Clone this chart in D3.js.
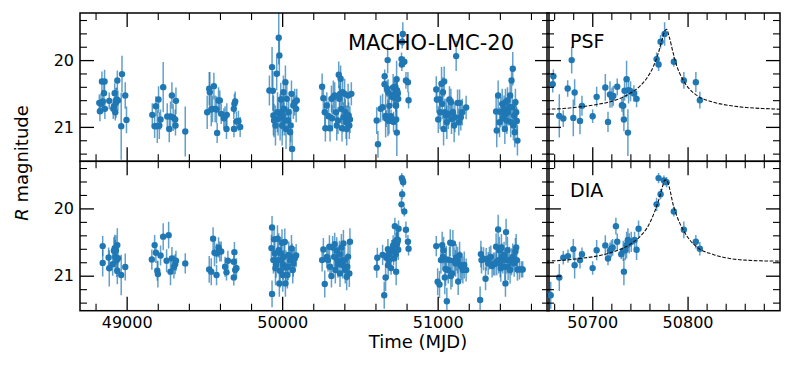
<!DOCTYPE html>
<html>
<head>
<meta charset="utf-8">
<script src="https://cdn.jsdelivr.net/npm/d3@7"></script>
<style>
  body { margin: 0; background: #fff; }
  svg { font-family: "DejaVu Sans", sans-serif; }
</style>
</head>
<body>
<div class="chart"></div>
<script>
const FRAME_WIDTH = 793;
const FRAME_HEIGHT = 366;

// PSF photometry: [MJD, R mag, error]
const psfData = [
  // 1992-93
  [48824,20.64,.125],[48828,20.765,.15],[48835,20.655,.15],[48841,20.32,.15],[48846,20.62,.175],
  [48854,20.495,.2],[48858,20.32,.175],[48860,20.73,.15],[48888,20.61,.125],[48914,20.73,.15],
  [48918,20.69,.125],[48923,20.495,.15],[48927,20.78,.125],[48931,20.64,.225],[48936,20.59,.175],
  [48940,20.305,.15],[48944,20.605,.15],[48965,20.99,.5],[48970,20.21,.275],[48991,20.53,.2],
  [48999,20.895,.2],
  [49165,20.82,.175],[49180,20.99,.175],[49188,20.69,.15],[49197,20.99,.25],[49205,20.59,.2],
  [49210,20.98,.2],[49218,20.89,.15],[49235,20.405,.375],[49261,20.845,.2],[49274,21.03,.2],
  [49282,20.845,.225],[49291,20.53,.2],[49299,20.86,.2],[49312,20.89,.15],[49314,20.98,.15],
  [49317,20.61,.2],[49377,21.07,.375],
  [49518,20.78,.25],[49531,20.43,.25],[49535,20.48,.3],[49544,20.74,.25],[49552,20.73,.2],
  [49561,20.39,.2],[49569,20.73,.2],[49578,20.74,.2],[49582,21.09,.15],[49591,20.605,.2],
  [49599,20.605,.15],[49608,20.805,.15],[49625,20.87,.15],[49633,20.84,.15],[49642,21.03,.15],
  [49644,20.82,.175],[49689,20.73,.15],[49690,21.03,.125],[49693,20.655,.15],[49698,20.62,.15],
  [49706,20.92,.15],[49719,20.91,.15],[49730,21.0,.15],
  [49918,20.455,.225],[49935,20.105,.3],[49940,20.46,.3],[49944,20.83,.3],[49948,20.905,.25],
  [49957,20.98,.3],[49965,20.205,.25],[49970,20.78,.3],[49974,20.88,.25],[49978,19.665,.4],
  [49982,19.93,.3],[49987,20.855,.35],[49991,20.59,.25],[49995,20.78,.25],[50000,20.98,.3],
  [50004,20.83,.3],[50008,20.48,.25],[50012,20.73,.25],[50017,20.905,.225],[50021,20.33,.25],
  [50025,21.03,.3],[50030,20.58,.25],[50038,20.905,.2],[50042,20.78,.2],[50051,21.08,.25],
  [50055,20.98,.25],[50060,20.505,.2],[50064,21.33,.3],[50072,20.68,.2],[50081,20.63,.2],
  [50090,20.73,.2],[50094,20.605,.175],
  [50257,20.4,.2],[50265,20.57,.2],[50274,20.78,.225],[50278,21.02,.2],[50287,20.68,.2],
  [50299,20.84,.225],[50308,21.02,.2],[50317,20.58,.2],[50321,20.87,.2],[50329,20.555,.25],
  [50338,20.53,.2],[50346,20.78,.2],[50351,20.98,.225],[50359,20.905,.2],[50364,20.22,.2],
  [50368,20.58,.2],[50372,20.505,.225],[50376,20.28,.2],[50381,20.73,.225],[50385,21.02,.2],
  [50389,20.48,.2],[50394,20.855,.225],[50402,20.505,.225],[50406,20.78,.2],[50411,20.93,.25],
  [50415,21.03,.25],[50419,20.88,.2],[50424,20.53,.175],[50428,20.83,.2],[50432,20.98,.2],
  [50436,20.89,.2],[50445,20.505,.175],
  [50608,20.905,.2],[50616,21.26,.2],[50633,20.73,.2],[50646,20.705,.2],
  [50659.2,20.24,.1],[50658.5,20.36,.125],[50665.4,20.835,.325],[50669.6,20.875,.125],
  [50674.2,20.425,.125],[50678.4,20.0,.2],[50680.1,20.865,.275],[50681.5,20.485,.2],
  [50687.1,20.91,.2],[50689.2,20.685,.15],[50700.4,20.84,.1],[50704.6,20.55,.15],
  [50713.7,20.41,.2],[50716.5,20.925,.15],[50718.6,20.515,.2],[50720.7,20.56,.15],
  [50722.1,20.535,.15],[50726.2,20.4,.125],[50731.1,20.675,.1],[50732.5,20.685,.15],
  [50733.9,20.46,.15],[50733.2,20.89,.175],[50736.0,20.285,.275],[50737.4,21.085,.35],
  [50738.1,20.45,.2],[50740.2,20.465,.15],[50743.7,20.5,.125],[50746.5,20.58,.125],
  [50767.5,19.985,.1],[50769.6,20.065,.1],[50771.7,19.725,.1],[50775.9,19.61,.175],
  [50785.6,20.025,.075],[50796.1,20.305,.125],[50808.7,20.33,.15],[50812.9,20.6,.125],
  [50991,20.44,.2],[50995,20.59,.2],[51004,20.89,.2],[51012,20.59,.25],[51016,20.78,.25],
  [51025,20.355,.25],[51029,20.655,.225],[51034,20.48,.225],[51038,21.03,.25],[51042,20.32,.225],
  [51046,20.78,.2],[51055,20.83,.25],[51059,20.93,.25],[51068,20.805,.225],[51076,20.59,.2],
  [51085,20.63,.2],[51089,20.88,.225],[51098,20.78,.2],[51106,20.98,.25],[51111,20.855,.225],
  [51119,19.94,.225],[51128,20.64,.2],[51136,20.93,.2],[51141,20.64,.2],[51149,20.855,.2],
  [51158,20.78,.2],[51183,20.71,.175],
  [51376,20.77,.25],[51380,21.055,.25],[51389,20.53,.225],[51398,20.93,.225],[51406,20.78,.225],
  [51415,20.655,.225],[51419,20.87,.2],[51427,20.73,.2],[51432,21.03,.225],[51436,20.63,.2],
  [51440,20.805,.2],[51445,20.905,.2],[51449,20.605,.2],[51453,20.78,.2],[51462,20.705,.2],
  [51466,20.53,.225],[51470,20.93,.225],[51475,20.305,.2],[51479,20.705,.2],[51483,20.13,.25],
  [51487,20.98,.225],[51492,20.83,.2],[51496,21.08,.225],[51500,20.63,.2],[51505,20.78,.2],
  [51509,20.91,.2],[51513,21.205,.225]
];

// DIA photometry: [MJD, R mag, error]
const diaData = [
  [48846,20.56,.15],[48846,20.81,.2],[48884,20.73,.15],[48888,20.89,.27],[48910,20.83,.17],
  [48918,20.63,.2],[48923,20.59,.2],[48927,20.72,.25],[48931,20.62,.22],[48936,20.77,.25],
  [48940,20.545,.25],[48944,20.74,.22],[48940,20.926,.2],[48965,20.99,.3],[48991,20.87,.2],
  [49162,20.76,.15],[49180,20.545,.15],[49188,20.66,.15],[49197,20.926,.15],[49201,20.976,.2],
  [49218,20.7,.15],[49235,20.42,.2],[49257,20.778,.17],[49270,20.397,.2],[49282,20.94,.2],
  [49291,20.743,.17],[49304,20.87,.17],[49312,20.83,.15],[49317,20.778,.15],[49377,20.817,.15],
  [49531,20.906,.2],[49544,20.94,.2],[49556,20.45,.17],[49565,20.66,.2],[49578,20.67,.15],
  [49578,20.99,.15],[49591,20.58,.15],[49599,20.64,.15],[49608,20.64,.15],[49633,20.867,.15],
  [49642,20.95,.12],[49651,20.778,.15],[49689,20.793,.15],[49693,20.65,.15],[49698,20.916,.15],
  [49689,21.025,.12],[49706,20.89,.15],
  [49935,20.283,.17],[49935,21.27,.2],[49931,20.59,.2],[49944,20.768,.2],[49948,20.46,.2],
  [49953,20.67,.25],[49957,20.89,.25],[49961,20.83,.2],[49970,20.45,.2],[49974,20.768,.2],
  [49978,20.62,.25],[49982,21.114,.2],[49987,20.926,.25],[49991,20.67,.25],[49995,20.768,.22],
  [49999,20.51,.2],[50004,20.99,.25],[50008,20.84,.22],[50012,20.72,.2],[50017,20.5,.2],
  [50021,21.114,.2],[50025,20.877,.25],[50034,20.99,.2],[50038,20.867,.2],[50042,20.69,.2],
  [50051,20.768,.2],[50060,20.595,.2],[50064,20.72,.2],[50068,20.916,.2],[50072,20.817,.2],
  [50081,20.743,.17],[50090,20.7,.17],
  [50257,20.768,.17],[50265,20.61,.17],[50274,21.124,.2],[50287,20.72,.17],[50295,20.768,.17],
  [50304,20.57,.17],[50308,20.867,.17],[50317,21.005,.17],[50325,20.58,.17],[50334,20.72,.17],
  [50338,20.53,.17],[50342,20.916,.2],[50351,20.63,.2],[50355,20.768,.2],[50359,20.83,.2],
  [50368,20.679,.2],[50372,20.966,.2],[50381,20.58,.2],[50385,20.768,.2],[50389,20.84,.2],
  [50394,20.52,.2],[50402,20.768,.2],[50406,20.916,.2],[50415,21.015,.2],[50419,20.867,.2],
  [50424,20.72,.2],[50432,20.966,.2],[50436,20.496,.2],
  [50608,20.88,.15],[50612,20.733,.15],[50646,20.69,.15],
  [50656.4,21.29,.2],[50665.4,21.026,.2],[50669.6,20.734,.1],[50674.5,20.709,.1],
  [50680.1,20.605,.15],[50681.5,20.843,.2],[50687.1,20.768,.125],[50689.2,20.68,.1],
  [50700.4,20.887,.1],[50704.6,20.62,.15],[50713.7,20.55,.15],[50716.5,20.744,.1],
  [50718.6,20.63,.125],[50720.0,20.6,.125],[50721.4,20.58,.125],[50724.8,20.264,.125],
  [50726.2,20.496,.125],[50730.4,20.68,.075],[50732.5,20.63,.15],[50733.2,20.94,.2],
  [50734.6,20.62,.15],[50736.0,20.546,.2],[50737.4,20.47,.175],[50738.8,20.52,.15],
  [50740.9,20.496,.15],[50744.4,20.47,.125],[50746.5,20.615,.15],[50748.6,20.303,.125],
  [50767.5,19.94,.1],[50769.6,19.55,.075],[50771.7,19.788,.075],[50775.2,19.585,.075],
  [50778.0,19.61,.075],[50785.6,20.046,.075],[50796.1,20.318,.125],[50808.7,20.496,.1],
  [50812.9,20.6,.1],
  [50991,20.56,.15],[51000,21.09,.2],[51012,21.13,.2],[51021,20.768,.2],[51029,20.545,.2],
  [51034,20.72,.2],[51038,20.62,.2],[51046,21.025,.25],[51051,20.9,.25],[51055,20.758,.2],
  [51059,21.38,.2],[51068,20.916,.2],[51076,20.768,.2],[51081,20.51,.2],[51085,21.005,.2],
  [51093,20.966,.2],[51098,20.52,.2],[51106,20.778,.2],[51115,20.817,.2],[51119,20.728,.2],
  [51128,20.768,.2],[51132,21.085,.2],[51141,20.694,.2],[51145,20.84,.2],[51153,20.867,.2],
  [51162,20.916,.2],[51171,20.84,.2],[51183,20.916,.17],
  [51273,21.36,.2],[51278,20.679,.2],[51282,20.768,.2],[51295,20.748,.17],[51308,21.045,.17],
  [51312,20.758,.17],[51325,20.817,.17],[51333,20.738,.17],[51342,20.72,.17],[51350,20.857,.17],
  [51359,20.827,.17],[51368,20.827,.17],[51376,20.57,.2],[51380,20.793,.2],[51389,20.313,.22],
  [51393,20.768,.2],[51397,20.62,.2],[51402,20.827,.2],[51406,20.89,.2],[51410,20.58,.2],
  [51415,20.72,.2],[51419,20.768,.2],[51427,20.694,.2],[51432,20.867,.2],[51436,21.114,.2],
  [51440,20.352,.2],[51445,20.768,.2],[51449,20.62,.2],[51453,20.867,.2],[51462,20.768,.2],
  [51466,20.916,.2],[51475,20.793,.2],[51483,20.72,.2],[51492,20.817,.2],[51500,20.64,.2],
  [51505,20.58,.2],[51509,20.768,.2],[51513,20.906,.17],[51526,20.906,.15],[51539,20.906,.12],
  [51547,20.906,.12]
];

// fitted model: [MJD, R mag]
const psfModel = [
  [50652,20.735],[50669.6,20.725],[50687.1,20.70],[50704.6,20.665],[50722.1,20.61],
  [50739.5,20.50],[50750.0,20.39],[50757.0,20.275],[50764.0,20.10],[50769.2,19.90],
  [50772.7,19.725],[50776.2,19.56],[50778.0,19.54],[50780.7,19.65],[50785.0,19.90],
  [50788.4,20.075],[50795.4,20.30],[50802.4,20.44],[50809.4,20.525],[50826.9,20.63],
  [50844.3,20.68],[50861.8,20.71],[50879.3,20.725],[50897,20.735]
];
const diaModel = [
  [50652,20.783],[50669.6,20.77],[50687.1,20.744],[50704.6,20.709],[50722.1,20.645],
  [50739.5,20.536],[50750.0,20.42],[50757.0,20.30],[50764.0,20.10],[50769.2,19.90],
  [50772.7,19.73],[50776.2,19.58],[50778.0,19.58],[50780.7,19.68],[50785.0,19.95],
  [50788.4,20.10],[50795.4,20.32],[50802.4,20.47],[50809.4,20.57],[50826.9,20.684],
  [50844.3,20.744],[50861.8,20.77],[50879.3,20.78],[50897,20.783]
];

const WIDE_TICKS = [49000, 50000, 51000];
const ZOOM_TICKS = [50700, 50800];
const MAG_TICKS = [20, 21];

const WIDE_MINOR = d3.range(48800, 51716, 200).filter(v => v % 1000 !== 0);
const ZOOM_MINOR = d3.range(50660, 50897, 20).filter(v => v % 100 !== 0);
const MAG_MINOR = d3.range(194, 216, 2).map(v => v / 10).filter(v => v % 1 !== 0);

const BLUE = "#1f77b4";

const SVG = d3.select(".chart")
  .append("svg")
  .attr("width", FRAME_WIDTH)
  .attr("height", FRAME_HEIGHT);

const X_WIDE = d3.scaleLinear().domain([48700, 51716]).range([80, 549]);
const X_ZOOM = d3.scaleLinear().domain([50652.5, 50897]).range([547, 780]);
const Y_TOP = d3.scaleLinear().domain([21.515, 19.295]).range([161.3, 13]);
const Y_BOTTOM = d3.scaleLinear().domain([21.52, 19.3]).range([310.7, 161.3]);

let clipCount = 0;

function drawPanel(xScale, yScale, data, model, opts) {
  const [xa, xb] = xScale.range();
  const [yb, ya] = yScale.range();
  const clipId = "clip" + (clipCount++);

  SVG.append("clipPath").attr("id", clipId)
    .append("rect")
      .attr("x", xa).attr("y", ya)
      .attr("width", xb - xa).attr("height", yb - ya);

  const plot = SVG.append("g").attr("clip-path", "url(#" + clipId + ")");
  const xd = xScale.domain();
  const shown = data.filter(d => d[0] >= xd[0] - 5 && d[0] <= xd[1] + 5);

  plot.selectAll(".err")
    .data(shown)
    .enter()
    .append("line")
      .attr("class", "err")
      .attr("x1", d => xScale(d[0]))
      .attr("x2", d => xScale(d[0]))
      .attr("y1", d => yScale(d[1] - d[2]))
      .attr("y2", d => yScale(d[1] + d[2]))
      .attr("stroke", BLUE)
      .attr("stroke-opacity", 0.7)
      .attr("stroke-width", 1.5);

  plot.selectAll(".pt")
    .data(shown)
    .enter()
    .append("circle")
      .attr("class", "pt")
      .attr("cx", d => xScale(d[0]))
      .attr("cy", d => yScale(d[1]))
      .attr("r", 3.2)
      .attr("fill", BLUE);

  if (model) {
    plot.append("path")
      .datum(model)
      .attr("fill", "none")
      .attr("stroke", "#111")
      .attr("stroke-width", 1.1)
      .attr("stroke-dasharray", "3.7,1.6")
      .attr("d", d3.line()
        .x(d => xScale(d[0]))
        .y(d => yScale(d[1]))
        .curve(d3.curveMonotoneX));
  }

  // ticks on all four sides, pointing inward
  const sides = [
    {axis: d3.axisLeft(yScale), pos: [xa, 0], major: MAG_TICKS, minor: MAG_MINOR, label: opts.yLabels},
    {axis: d3.axisRight(yScale), pos: [xb, 0], major: MAG_TICKS, minor: MAG_MINOR, label: false},
    {axis: d3.axisBottom(xScale), pos: [0, yb], major: opts.xTicks, minor: opts.xMinor, label: opts.xLabels},
    {axis: d3.axisTop(xScale), pos: [0, ya], major: opts.xTicks, minor: opts.xMinor, label: false}
  ];

  sides.forEach(s => {
    const ga = SVG.append("g")
      .attr("transform", "translate(" + s.pos[0] + "," + s.pos[1] + ")")
      .call(s.axis.tickValues(s.major).tickSize(-14).tickPadding(6)
        .tickFormat(s.label ? d3.format("d") : ""))
      .attr("font-size", 16)
      .attr("font-family", "DejaVu Sans, sans-serif");
    ga.select(".domain").remove();
    ga.selectAll("line").attr("stroke", "#000").attr("stroke-width", 1.3);
    ga.selectAll("text").attr("fill", "#000");

    const gm = SVG.append("g")
      .attr("transform", "translate(" + s.pos[0] + "," + s.pos[1] + ")")
      .call(s.axis.tickValues(s.minor).tickSize(-7).tickFormat(""));
    gm.select(".domain").remove();
    gm.selectAll("line").attr("stroke", "#000").attr("stroke-width", 1.1);
  });

  SVG.append("rect")
    .attr("x", xa).attr("y", ya)
    .attr("width", xb - xa).attr("height", yb - ya)
    .attr("fill", "none")
    .attr("stroke", "#000")
    .attr("stroke-width", 1.5);

  if (opts.title) {
    SVG.append("text")
      .attr("x", opts.title.x)
      .attr("y", opts.title.y)
      .attr("font-size", opts.title.size)
      .attr("fill", "#000")
      .text(opts.title.text);
  }
}

drawPanel(X_WIDE, Y_TOP, psfData, null,
  {yLabels: true, xLabels: false, xTicks: WIDE_TICKS, xMinor: WIDE_MINOR,
   title: {text: "MACHO-LMC-20", x: 348, y: 50, size: 21}});
drawPanel(X_WIDE, Y_BOTTOM, diaData, null,
  {yLabels: true, xLabels: true, xTicks: WIDE_TICKS, xMinor: WIDE_MINOR});
drawPanel(X_ZOOM, Y_TOP, psfData, psfModel,
  {yLabels: false, xLabels: false, xTicks: ZOOM_TICKS, xMinor: ZOOM_MINOR,
   title: {text: "PSF", x: 570, y: 48, size: 19}});
drawPanel(X_ZOOM, Y_BOTTOM, diaData, diaModel,
  {yLabels: false, xLabels: true, xTicks: ZOOM_TICKS, xMinor: ZOOM_MINOR,
   title: {text: "DIA", x: 570, y: 196.5, size: 19}});

// axis titles
SVG.append("text")
  .attr("x", 418)
  .attr("y", 348)
  .attr("text-anchor", "middle")
  .attr("font-size", 18)
  .attr("fill", "#000")
  .text("Time (MJD)");

const yTitle = SVG.append("text")
  .attr("transform", "translate(27.5,163) rotate(-90)")
  .attr("text-anchor", "middle")
  .attr("font-size", 18)
  .attr("fill", "#000");
yTitle.append("tspan").attr("font-style", "italic").text("R");
yTitle.append("tspan").text(" magnitude");
</script>
</body>
</html>
